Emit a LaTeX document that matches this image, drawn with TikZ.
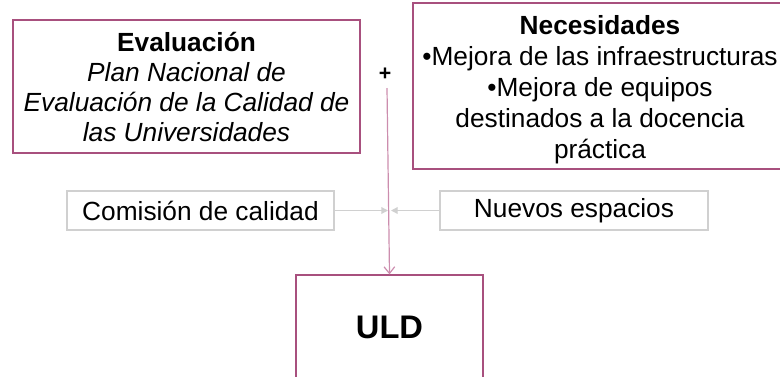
\documentclass[tikz,border=0pt]{standalone}
\usepackage{fontspec}
\setmainfont{Liberation Sans}
\usetikzlibrary{arrows.meta}

\definecolor{borde}{HTML}{A8507E}
\definecolor{flecha}{HTML}{CC8DAE}
\definecolor{gris}{HTML}{D0D0D0}

\begin{document}
\begin{tikzpicture}[x=0.75pt,y=-0.75pt,
  caja/.style={draw=borde, line width=0.9pt, align=center, inner sep=0pt},
  cajagris/.style={draw=gris, line width=1pt, align=center, inner sep=0pt},
  texto/.style={font=\fontsize{19.7}{22.5}\selectfont}]

\useasboundingbox (0,0) rectangle (780,376);

% cajas de arriba
\node[caja, texto, minimum width=260.25pt, minimum height=99.75pt] (EV) at (186.5,86.5)
  {\textbf{Evaluación}\\\textit{Plan Nacional de}\\\textit{Evaluación de la Calidad de}\\\textit{las Universidades}};
\node[caja, texto, font=\fontsize{19.7}{23.3}\selectfont, minimum width=280.5pt, minimum height=124.5pt] (NE) at (600,86)
  {\rule{0pt}{20pt}\textbf{Necesidades}\\•Mejora de las infraestructuras\\•Mejora de equipos\\destinados a la docencia\\práctica};

% cajas grises
\node[cajagris, texto, minimum width=200.25pt, minimum height=29.25pt] (CO) at (200.5,210.5) {Comisión de calidad};
\node[cajagris, texto, minimum width=201pt, minimum height=29.25pt] (NU) at (574,210.5) {Nuevos espacios};

% ULD
\node[caja, font=\fontsize{24.5}{30}\selectfont\bfseries, minimum width=140.25pt, minimum height=78pt] (ULD) at (389.5,327) {ULD};

\node[font=\fontsize{16}{18}\selectfont\bfseries, inner sep=0pt] (MAS) at (385,74) {+};

\coordinate (ARR) at (387,88);
\coordinate (CI) at (388,210.5);
\coordinate (CD) at (391,210.5);

\draw[flecha, line width=0.9pt, -{Straight Barb[length=5pt,width=8pt]}] (ARR) -- (ULD.north);
\draw[gris, line width=1pt, -{Triangle[length=5pt,width=5pt]}] (CO.east) -- (CI);
\draw[gris, line width=1pt, -{Triangle[length=5pt,width=5pt]}] (NU.west) -- (CD);

\end{tikzpicture}
\end{document}
